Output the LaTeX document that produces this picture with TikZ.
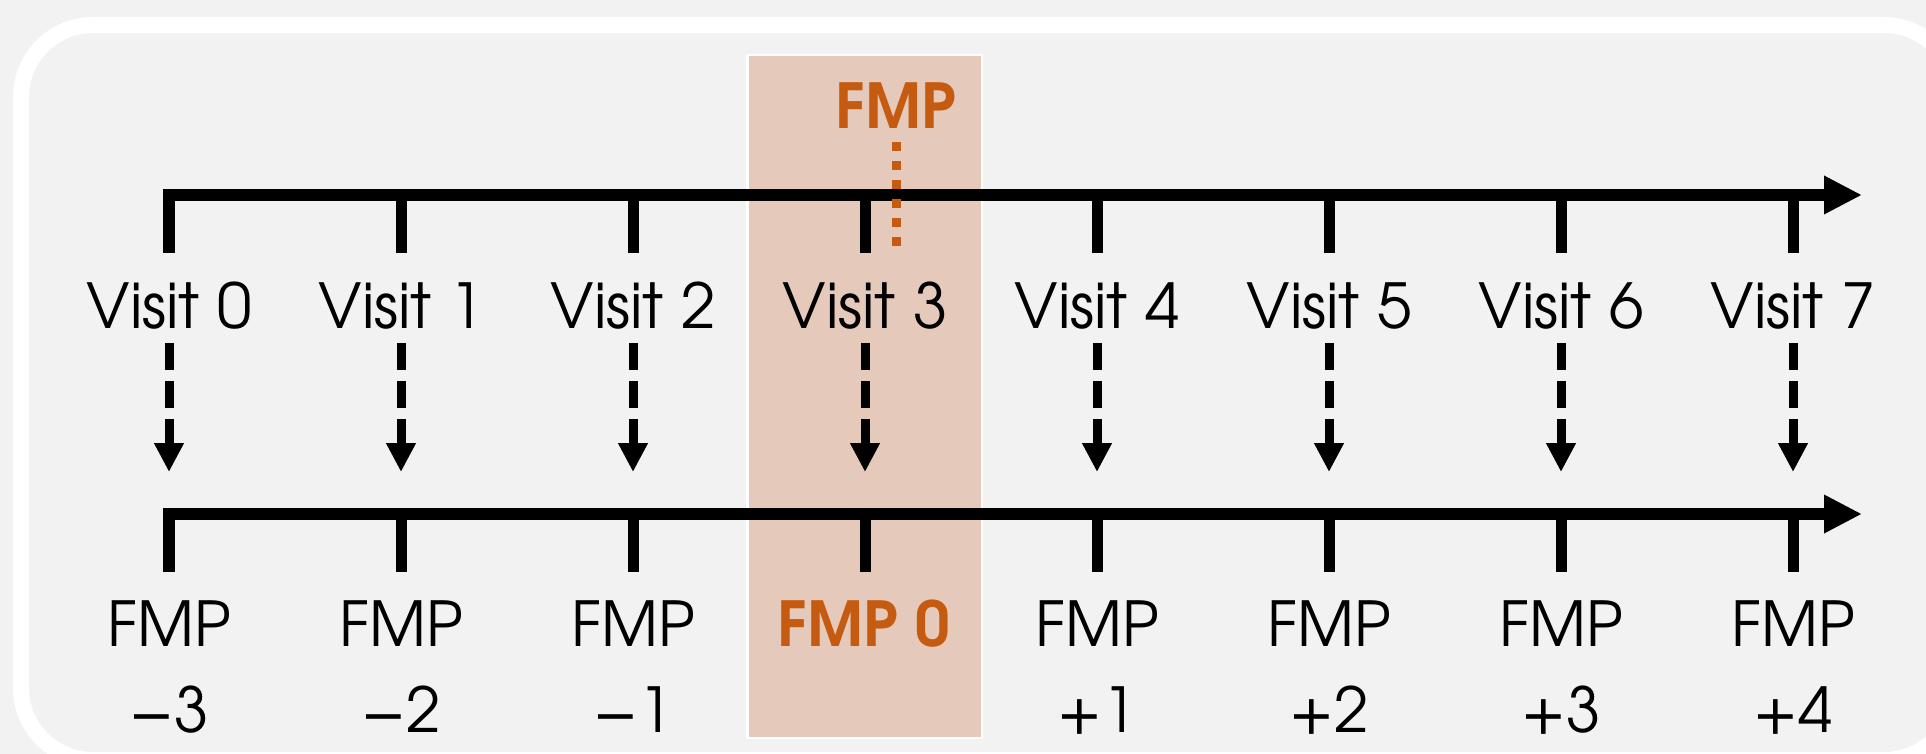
\documentclass[tikz,border=0pt]{standalone}
\usepackage{fontspec}
\setmainfont{TeX Gyre Adventor}
\usetikzlibrary{arrows.meta}
\definecolor{bg}{HTML}{F2F2F2}
\definecolor{fmp}{HTML}{C55A11}
\definecolor{hl}{RGB}{229,201,186}
\begin{document}
\begin{tikzpicture}[x=0.5pt,y=-0.5pt,
  axis/.style={line width=6pt, line join=miter, -{Triangle[length=19pt,width=18pt]}},
  tickline/.style={line width=5.5pt},
  dasharrow/.style={line width=4.5pt, dash pattern=on 13.5pt off 5.5pt, -{Triangle[length=14.5pt,width=14pt]}},
  dotline/.style={fmp, line width=4.5pt, dash pattern=on 4.5pt off 5pt},
  lbl/.style={anchor=base, inner sep=0pt, font=\fontsize{31}{43}\selectfont, align=center},
  hlbl/.style={lbl, text=fmp, font=\fontsize{31}{43}\selectfont\bfseries}]
\useasboundingbox (0,0) rectangle (1926,754);
\fill[bg] (0,0) rectangle (1926,754);
\draw[white, line width=8pt, rounded corners=36pt] (21,25) rectangle (1956,760);
\node (hlbox) [draw=white, fill=hl, line width=1.25pt, minimum width=117.25pt, minimum height=341.25pt, inner sep=0pt] at (864.5,396.5) {};
% coordinates
\foreach \i in {0,...,7}{
  \pgfmathsetmacro{\xx}{169+232*\i}
  \coordinate (ut\i) at (\xx,195);
  \coordinate (ub\i) at (\xx,253);
  \coordinate (lt\i) at (\xx,514);
  \coordinate (lb\i) at (\xx,572);
  \coordinate (ds\i) at (\xx,343);
  \coordinate (de\i) at (\xx,472);
}
\coordinate (uend) at (1862,195);
\coordinate (lend) at (1862,514);
% axes
\draw[axis] (ub0) -- (ut0) -- (uend);
\draw[axis] (lb0) -- (lt0) -- (lend);
\foreach \i in {1,...,7}{
  \draw[tickline] (ut\i) -- (ub\i);
  \draw[tickline] (lt\i) -- (lb\i);
}
% dashed arrows
\foreach \i in {0,...,7}{
  \draw[dasharrow] (ds\i) -- (de\i);
}
% visit labels
\foreach \i in {0,...,7}{
  \node[lbl] (v\i) at (169+232*\i,328) {Visit \i};
}
% FMP labels (anchor at baseline of the second line)
\foreach \i/\t in {0/−3,1/−2,2/−1,4/+1,5/+2,6/+3,7/+4}{
  \node[lbl] (f\i) at (169+232*\i,732) {FMP\\\t};
}
\node[hlbl] (f3) at (864,646) {FMP 0};
% top FMP marker
\node[hlbl] (fmptop) at (896,129) {FMP};
\coordinate (dt1) at (896,142);
\coordinate (dt2) at (896,246);
\draw[dotline] (dt1) -- (dt2);
\end{tikzpicture}
\end{document}
